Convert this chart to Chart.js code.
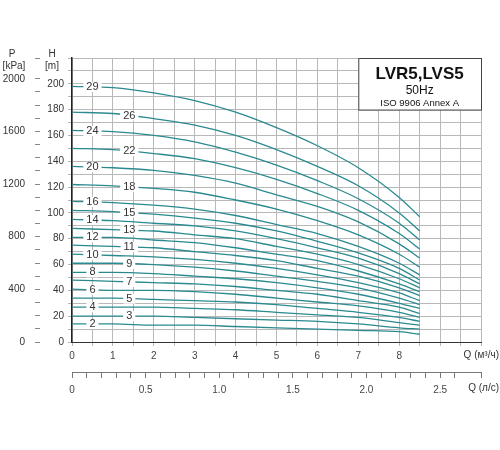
<!DOCTYPE html>
<html><head><meta charset="utf-8">
<script src="https://cdn.jsdelivr.net/npm/chart.js@4"></script>
<style>body{margin:0;background:#fff}#w{width:500px;height:450px}</style>
</head><body><div id="w"><canvas id="c"></canvas></div>
<script>
const flows = [0,1,2,3,4,5,6,7,8,8.5];
const stages = [29,26,24,22,20,18,16,15,14,13,12,11,10,9,8,7,6,5,4,3,2];
const h29=[198,197,193,187,178,166,152,135,112,97];
const h26=[178,177,173,168,160,149,136,121,100,86];
const h24=[164,163,160,155,147,137,125,111,92,79];
const h22=[150,149,146,142,135,126,115,102,84,72];
const h20=[136,135,133,129,123,114,105,93,76,65];
const h18=[122,121,119,116,110,103,94,83,68,58];
const h16=[109,108,106,103,98,91,84,74,61,52];
const h15=[102,101,99,96,92,86,78,69,57,48];
const h14=[95,94,92,90,86,80,73,65,53,45];
const h13=[88,87,86,83,80,74,68,60,49,42];
const h12=[81,81,79,77,73,68,63,55,45,39];
const h11=[75,74,73,70,67,63,57,51,42,36];
const h10=[68,67,66,64,61,57,52,46,38,32];
const h9=[61,61,60,58,55,51,47,42,34,29];
const h8=[54,54,53,51,49,46,42,37,30,26];
const h7=[48,47,46,45,43,40,37,32,27,22];
const h6=[41,40,40,39,37,34,31,28,23,19];
const h5=[34,34,33,32,31,29,26,23,19,16];
const h4=[27,27,27,26,25,23,21,19,15,13];
const h3=[20,20,20,19,18,17,16,14,11,10];
const h2=[14,14,13,13,12,11,10,9,8,6];
const heads=[h29,h26,h24,h22,h20,h18,h16,h15,h14,h13,h12,h11,h10,h9,h8,h7,h6,h5,h4,h3,h2];
const labelQ=[0.5,1.4,0.5,1.4,0.5,1.4,0.5,1.4,0.5,1.4,0.5,1.4,0.5,1.4,0.5,1.4,0.5,1.4,0.5,1.4,0.5];
const qLabels=['0','1','2','3','4','5','6','7','8'];
const lsLabels=['0','0.5','1.0','1.5','2.0','2.5'];
const pLabels=['0','400','800','1200','1600','2000'];

const FONT='"Liberation Sans", Arial, sans-serif';
const teal='#2a8a90';
const datasets=stages.map((s,i)=>({label:String(s),data:flows.map((q,j)=>({x:q,y:heads[i][j]})),
  borderColor:teal,borderWidth:1.3,pointRadius:0,tension:0.4,cubicInterpolationMode:'monotone',fill:false}));

const deco={id:'deco',afterDatasetsDraw(ch){
  const c=ch.ctx,x=ch.scales.x,y=ch.scales.y,a=ch.chartArea;
  c.save();c.font='11px '+FONT;c.textAlign='center';c.textBaseline='middle';
  stages.forEach((s,i)=>{
    const q=labelQ[i];
    let j=0;while(flows[j+1]<q)j++;
    const t=(q-flows[j])/(flows[j+1]-flows[j]);
    const h=heads[i][j]+t*(heads[i][j+1]-heads[i][j]);
    const px=x.getPixelForValue(q),py=y.getPixelForValue(h);
    const w=c.measureText(String(s)).width+6;
    c.fillStyle='#fff';c.fillRect(px-w/2,py-5,w,10);
    c.fillStyle='#333';c.fillText(String(s),px,py);
  });
  const bx=x.getPixelForValue(7);const bx2=a.right,by=a.top,by2=y.getPixelForValue(180);
  c.fillStyle='#fff';c.fillRect(bx,by,bx2-bx,by2-by);
  c.strokeStyle='#444';c.lineWidth=1;c.strokeRect(bx+0.5,by+0.5,bx2-bx,by2-by);
  c.fillStyle='#111';c.font='bold 17px '+FONT;c.fillText('LVR5,LVS5',(bx+bx2)/2,by+16);
  c.font='12px '+FONT;c.fillText('50Hz',(bx+bx2)/2,by+33);
  c.font='9.5px '+FONT;c.fillText('ISO 9906 Annex A',(bx+bx2)/2,by+45);
  c.fillStyle='#333';c.font='10px '+FONT;
  c.fillText('P',12,a.top-4);c.fillText('[kPa]',14,a.top+8);
  c.fillText('H',52,a.top-4);c.fillText('[m]',52,a.top+8);
  c.textAlign='right';
  c.fillText('Q (м³/ч)',499,355);
  c.fillText('Q (л/с)',499,388);
  c.restore();
}};

new Chart(document.getElementById('c'),{type:'line',data:{datasets},
 options:{responsive:true,maintainAspectRatio:false,animation:false,
  layout:{padding:{top:58,right:19,bottom:33,left:0}},
  plugins:{legend:{display:false},tooltip:{enabled:false}},
  scales:{
   x:{type:'linear',min:0,max:10,position:'bottom',
     ticks:{stepSize:0.5,autoSkip:false,maxRotation:0,color:'#444',font:{size:10,family:FONT},padding:4,
       callback:v=>(Number.isInteger(v)&&v<qLabels.length)?qLabels[v]:''},
     grid:{color:'#b8b8b8',lineWidth:1,tickLength:4},border:{color:'#333'},
     afterFit:s=>{s.height=30;}},
   x2:{type:'linear',min:0,max:10/3.6,position:'bottom',
     ticks:{stepSize:0.1,autoSkip:false,maxRotation:0,color:'#444',font:{size:10,family:FONT},padding:6,
       callback:v=>{const k=Math.round(v*10);return k%5===0?lsLabels[k/5]:'';}},
     grid:{drawOnChartArea:false,tickLength:6,color:'#777'},border:{color:'#777'},
     afterFit:s=>{s.height=45;}},
   y:{type:'linear',min:0,max:220,position:'left',
     ticks:{stepSize:10,autoSkip:false,color:'#333',font:{size:10,family:FONT},padding:4,
       callback:v=>(v%20===0&&v<=200)?String(v):''},
     grid:{color:'#b8b8b8',lineWidth:1,tickLength:4},border:{color:'#222',width:1.5},
     afterFit:s=>{s.width=32;}},
   p:{type:'linear',min:0,max:220*9.81,position:'left',
     ticks:{stepSize:100,autoSkip:false,color:'#333',font:{size:10,family:FONT},padding:10,
       callback:v=>{const k=Math.round(v/400);return (Math.abs(v-k*400)<1&&k<pLabels.length)?pLabels[k]:'';}},
     grid:{drawOnChartArea:false,tickLength:5,color:'#888'},border:{display:false},
     afterFit:s=>{s.width=40;}}
  }},plugins:[deco]});
</script></body></html>
